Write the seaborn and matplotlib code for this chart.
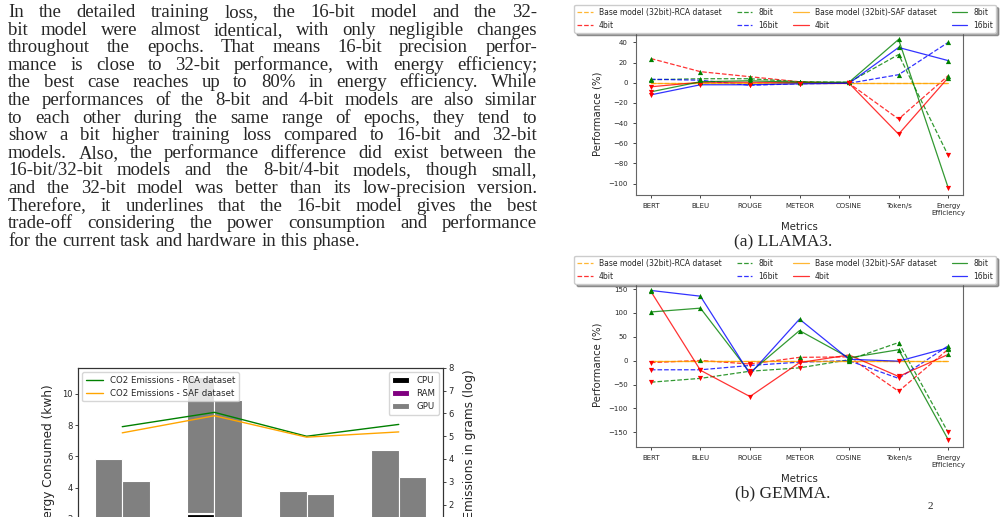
import matplotlib
matplotlib.use('Agg')
import numpy as np
import matplotlib.pyplot as plt
import seaborn as sns

# %%
# paragraph text (left column)
para_lines = [
    "In the detailed training loss, the 16-bit model and the 32-",
    "bit model were almost identical, with only negligible changes",
    "throughout the epochs. That means 16-bit precision perfor-",
    "mance is close to 32-bit performance, with energy efficiency;",
    "the best case reaches up to 80% in energy efficiency. While",
    "the performances of the 8-bit and 4-bit models are also similar",
    "to each other during the same range of epochs, they tend to",
    "show a bit higher training loss compared to 16-bit and 32-bit",
    "models. Also, the performance difference did exist between the",
    "16-bit/32-bit models and the 8-bit/4-bit models, though small,",
    "and the 32-bit model was better than its low-precision version.",
    "Therefore, it underlines that the 16-bit model gives the best",
    "trade-off considering the power consumption and performance",
    "for the current task and hardware in this phase.",
]

# %%
# performance charts
metrics = ['BERT', 'BLEU', 'ROUGE', 'METEOR', 'COSINE', 'Token/s', 'Energy\nEfficiency']
base_line = [0, 0, 0, 0, 0, 0, 0]

llama_4bit_rca = [24, 11, 6, 1, -0.5, -36, 7]
llama_8bit_rca = [3, 4, 4, 1, 0.5, 28, -72]
llama_16bit_rca = [3.5, 2.5, -2.5, -1, -0.5, 8, 40]
llama_4bit_saf = [-4, 0.5, 0.5, 0.3, -0.5, -51, 5]
llama_8bit_saf = [-9, 1, 2, 0.5, 0.5, 43, -104]
llama_16bit_saf = [-12, -2, -2, -1, -0.5, 35, 22]

gemma_4bit_rca = [-4, 0.5, -7, 7, 8, -64, 24]
gemma_8bit_rca = [-45, -37, -22, -15, 2, 38, -150]
gemma_16bit_rca = [-19, -19, -10, -3, 0, -37, 31]
gemma_4bit_saf = [145, -20, -75, -4, 12, -33, 13]
gemma_8bit_saf = [102, 110, -25, 63, 6, 23, -165]
gemma_16bit_saf = [147, 135, -28, 87, 3, -1, 27]

# %%
# energy / emissions chart
models = ['32bit', '16bit', '8bit', '4bit']
cpu_rca = [0.9, 2.3, 0.6, 1.0]
ram_rca = [0.1, 0.1, 0.05, 0.1]
gpu_rca = [4.85, 8.7, 3.15, 5.3]
cpu_saf = [0.7, 1.6, 0.6, 0.8]
ram_saf = [0.1, 0.1, 0.05, 0.1]
gpu_saf = [3.6, 7.9, 2.95, 3.8]
co2_rca = [5.42, 6.05, 5.0, 5.52]
co2_saf = [5.15, 5.9, 4.96, 5.19]


# %%
sns.set_style('ticks')
plt.rcParams['font.family'] = ['DejaVu Sans']

W, H = 1002, 517
fig = plt.figure(figsize=(W / 100, H / 100), dpi=100)
renderer = fig.canvas.get_renderer()


def px(x0, y0, x1, y1):
    return [x0 / W, 1 - y1 / H, (x1 - x0) / W, (y1 - y0) / H]


serif = {'family': 'Liberation Serif', 'fontsize': 13.5}


def text_width(s):
    t = fig.text(0, 0, s, **serif)
    w = t.get_window_extent(renderer).width
    t.remove()
    return w


# justified paragraph
x_left, x_right = 8, 537
space_w = text_width('a b') - text_width('ab')
for i, line in enumerate(para_lines):
    y = 17 + i * 17.6
    words = line.split(' ')
    widths = [text_width(w) for w in words]
    if i < len(para_lines) - 1:
        gap = (x_right - x_left - sum(widths)) / (len(words) - 1)
    else:
        gap = space_w
    x = x_left
    for w, wd in zip(words, widths):
        fig.text(x / W, 1 - y / H, w, va='baseline', ha='left', **serif)
        x += wd + gap


# %%
def perf_chart(rect, rca, saf, caption, cap_y, leg_x):
    ax = fig.add_axes(rect)
    colors = ['orange', 'red', 'green', 'blue']
    names = ['Base model (32bit)-RCA dataset', '4bit', '8bit', '16bit']
    for vals, c, n in zip([base_line] + rca, colors, names):
        sns.lineplot(x=metrics, y=vals, color=c, linestyle='--', lw=0.9,
                     alpha=0.8, label=n, ax=ax, sort=False)
    names = ['Base model (32bit)-SAF dataset', '4bit', '8bit', '16bit']
    for vals, c, n in zip([base_line] + saf, colors, names):
        sns.lineplot(x=metrics, y=vals, color=c, linestyle='-', lw=0.9,
                     alpha=0.8, label=n, ax=ax, sort=False)
    for vals in rca + saf:
        v = np.array(vals)
        m = np.array(metrics)
        sns.scatterplot(x=m[v >= 0], y=v[v >= 0], marker='^', color='green',
                        s=14, linewidth=0, ax=ax, zorder=5)
        sns.scatterplot(x=m[v < 0], y=v[v < 0], marker='v', color='red',
                        s=14, linewidth=0, ax=ax, zorder=5)
    h, l = ax.get_legend_handles_labels()
    ax.legend(h, l, ncol=4, fontsize=5.5, loc='lower center', shadow=True,
              bbox_to_anchor=(leg_x, 0.995), borderaxespad=0, frameon=True)
    ax.set_xlabel('Metrics', fontsize=7.3)
    ax.set_ylabel('Performance (%)', fontsize=7.3)
    ax.tick_params(labelsize=5, length=2.5, width=0.6)
    for s in ax.spines.values():
        s.set_color('#666666')
        s.set_linewidth(0.8)
    fig.text(783 / W, 1 - cap_y / H, caption, ha='center', va='center',
             family='Liberation Serif', fontsize=12.5)
    return ax


perf_chart(px(636, 32, 963, 195),
           [llama_4bit_rca, llama_8bit_rca, llama_16bit_rca],
           [llama_4bit_saf, llama_8bit_saf, llama_16bit_saf],
           '(a) LLAMA3.', 242, 0.456)
perf_chart(px(636, 283, 963, 447),
           [gemma_4bit_rca, gemma_8bit_rca, gemma_16bit_rca],
           [gemma_4bit_saf, gemma_8bit_saf, gemma_16bit_saf],
           '(b) GEMMA.', 493, 0.456)

fig.text(928 / W, 1 - 511 / H, '2', ha='left', va='bottom',
         family='Liberation Serif', fontsize=8)

# %%
axb = fig.add_axes(px(78, 368, 443, 550))
x = np.arange(len(models))
bw = 0.3
first = True
for off, cpu, ram, gpu in [(-bw / 2, cpu_rca, ram_rca, gpu_rca),
                           (bw / 2, cpu_saf, ram_saf, gpu_saf)]:
    axb.bar(x + off, cpu, bw, color='black', edgecolor='white', lw=0.8,
            label='CPU' if first else None)
    axb.bar(x + off, ram, bw, bottom=cpu, color='purple', edgecolor='white',
            lw=0.8, label='RAM' if first else None)
    axb.bar(x + off, gpu, bw, bottom=np.add(cpu, ram), color='gray',
            edgecolor='white', lw=0.8, label='GPU' if first else None)
    first = False
# model names sit below the visible area, so the tick labels are left out
axb.set_xticks(x)
axb.set_xticklabels([])
axb.set_ylabel('Energy Consumed (kwh)', fontsize=8.7)
axb.yaxis.set_label_coords(-0.062, 0.5)
axb.legend(loc='upper right', fontsize=6.2)
axb.tick_params(labelsize=6, length=2.5, width=0.6, pad=1.5)

ax2 = axb.twinx()
sns.lineplot(x=x, y=co2_rca, color='green', lw=1, label='CO2 Emissions - RCA dataset', ax=ax2)
sns.lineplot(x=x, y=co2_saf, color='orange', lw=1, label='CO2 Emissions - SAF dataset', ax=ax2)
ax2.set_ylim(0, 8)
ax2.set_ylabel('CO2 Emissions in grams (log)', fontsize=8.7)
ax2.yaxis.set_label_coords(1.055, 0.5)
ax2.legend(loc='upper left', fontsize=6.2)
ax2.tick_params(labelsize=6, length=2.5, width=0.6, pad=1.5)
for a in (axb, ax2):
    for s in a.spines.values():
        s.set_color('#333333')
        s.set_linewidth(0.8)

plt.savefig('out.png', dpi=100)
